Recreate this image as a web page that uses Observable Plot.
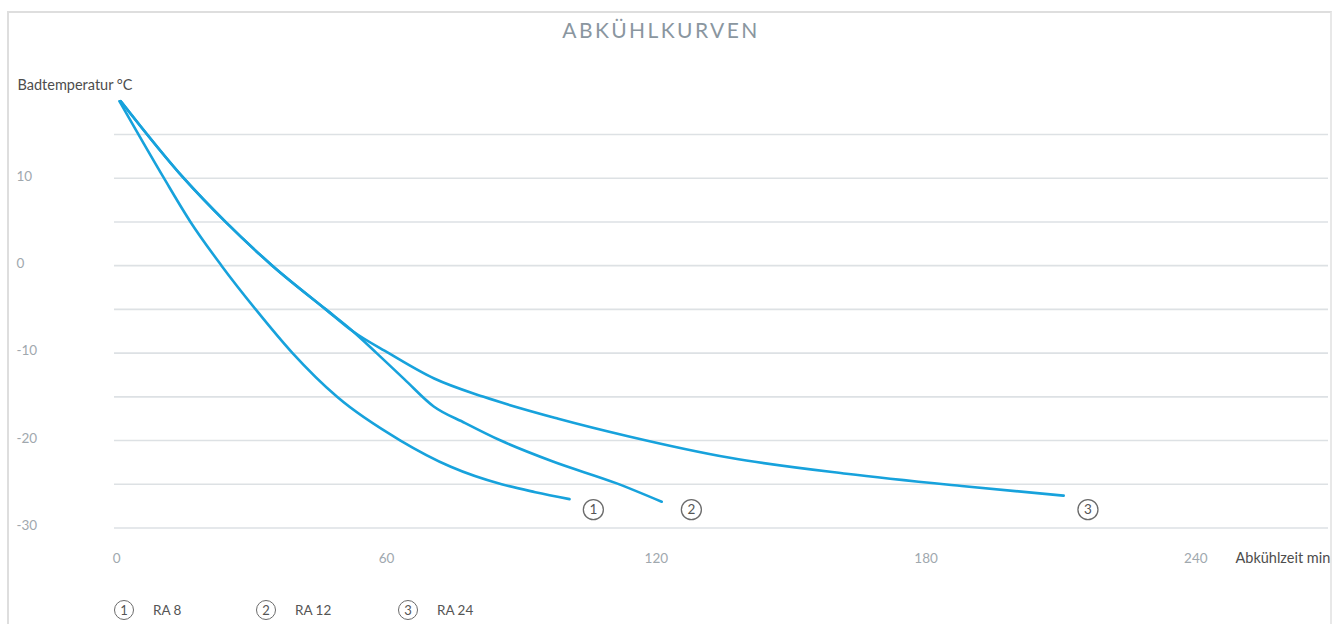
<!DOCTYPE html>
<html><head><meta charset="utf-8">
<script src="https://cdn.jsdelivr.net/npm/d3@7"></script>
<script src="https://cdn.jsdelivr.net/npm/@observablehq/plot@0.6"></script>
<style>
html,body{margin:0;padding:0;background:#fff;}
body{width:1333px;height:624px;overflow:hidden;position:relative;font-family:Lato,"Open Sans",sans-serif;}
#frame{position:absolute;left:7px;top:11px;width:1321px;height:700px;border-top:2px solid #dedede;border-left:2px solid #dedede;border-right:2px solid #e8e8e8;}
#title{position:absolute;left:0;top:17px;width:1322px;text-align:center;font-size:21px;letter-spacing:2.4px;color:#8a969f;}
#chart{position:absolute;left:0;top:0;}
#legend{position:absolute;left:114px;top:600px;display:flex;font-size:13.5px;color:#555;}
#legend .item{display:flex;align-items:center;width:142px;}
#legend .c{box-sizing:border-box;width:20px;height:20px;border:1.3px solid #6b6b6b;border-radius:50%;display:flex;align-items:center;justify-content:center;font-size:13px;color:#555;margin-right:19px;}
</style></head><body>
<div id="frame"></div>
<div id="title">ABKÜHLKURVEN</div>
<div id="chart"></div>
<div id="legend"></div>
<script>
// Data
const models = ["RA 8", "RA 12", "RA 24"];
const markers = ["1", "2", "3"];

const ra8Time = [0.6, 10.5, 16.4, 23.3, 30.9, 39.1, 49.0, 63.1, 74.3, 85.6, 93.1, 100.7];
const ra8Temp = [18.8, 10, 5, 0, -5, -10, -15, -20, -23.0, -25.0, -25.9, -26.7];

const ra12Time = [0.9, 14.9, 24.2, 34.6, 46.5, 52.5, 57.8, 64.0, 70.5, 77.5, 85.4, 97.0, 111.2, 121.2];
const ra12Temp = [18.8, 10, 5, 0, -5, -7.5, -10, -13.0, -16.1, -18.0, -20, -22.4, -24.9, -27.0];

const ra24Time = [0.9, 14.9, 24.2, 34.6, 46.5, 52.5, 60.5, 70.6, 81.6, 98.2, 113.7, 136.7, 162.3, 187.9, 210.6];
const ra24Temp = [18.8, 10, 5, 0, -5, -7.5, -10, -12.9, -15, -17.5, -19.5, -22.0, -23.8, -25.2, -26.3];

const labelTime = [106.0, 127.8, 216.0];
const labelTemp = [-27.9, -27.9, -27.9];

const gridTemps = [15, 10, 5, 0, -5, -10, -15, -20, -25, -30];
const yTickLabels = [10, 0, -10, -20, -30];
const xTickLabels = [0, 60, 120, 180, 240];
const yTitle = "Badtemperatur °C";
const xTitle = "Abkühlzeit min";

// Build table
const series = [[ra8Time, ra8Temp], [ra12Time, ra12Temp], [ra24Time, ra24Temp]];
const rows = series.flatMap(([ts, vs], i) => ts.map((t, j) => ({model: models[i], t, T: vs[j]})));
const labels = markers.map((m, i) => ({m, t: labelTime[i], T: labelTemp[i]}));

const lineColor = "#17a2dc";
const tickColor = "#a0a8ae";
const darkText = "#4d4d4d";

const chart = Plot.plot({
  width: 1333,
  height: 580,
  marginLeft: 114,
  marginRight: 5,
  marginTop: 99,
  marginBottom: 52.5,
  style: {fontFamily: "Lato, 'Open Sans', sans-serif", background: "transparent", overflow: "visible"},
  x: {domain: [-0.5, 269.5], axis: null},
  y: {domain: [-30, 19], axis: null},
  marks: [
    Plot.ruleY(gridTemps, {stroke: "#dde1e4", strokeWidth: 1.6}),
    Plot.text(yTickLabels, {y: d => d, frameAnchor: "left", dx: -98, dy: -2, textAnchor: "start", text: d => String(d), fill: tickColor, fontSize: 13.5}),
    Plot.text(xTickLabels, {x: d => d, frameAnchor: "bottom", dy: 34.5, text: d => String(d), fill: tickColor, fontSize: 13.5}),
    Plot.text([yTitle], {frameAnchor: "top-left", dx: -97, dy: -20, textAnchor: "start", text: d => d, fill: darkText, fontSize: 14.5}),
    Plot.text([xTitle], {frameAnchor: "bottom-right", dx: -93, dy: 34.5, textAnchor: "start", text: d => d, fill: darkText, fontSize: 14.5}),
    Plot.line(rows, {x: "t", y: "T", z: "model", stroke: lineColor, strokeWidth: 2.6, curve: "monotone-x"}),
    Plot.dot(labels, {x: "t", y: "T", r: 10, stroke: "#6b6b6b", strokeWidth: 1.3, fill: "white"}),
    Plot.text(labels, {x: "t", y: "T", text: "m", fill: "#555", fontSize: 13.5})
  ]
});
document.getElementById("chart").appendChild(chart);

const legend = document.getElementById("legend");
models.forEach((name, i) => {
  const item = document.createElement("div");
  item.className = "item";
  const c = document.createElement("span");
  c.className = "c";
  c.textContent = markers[i];
  const t = document.createElement("span");
  t.textContent = name;
  item.appendChild(c); item.appendChild(t);
  legend.appendChild(item);
});
</script>
</body></html>
